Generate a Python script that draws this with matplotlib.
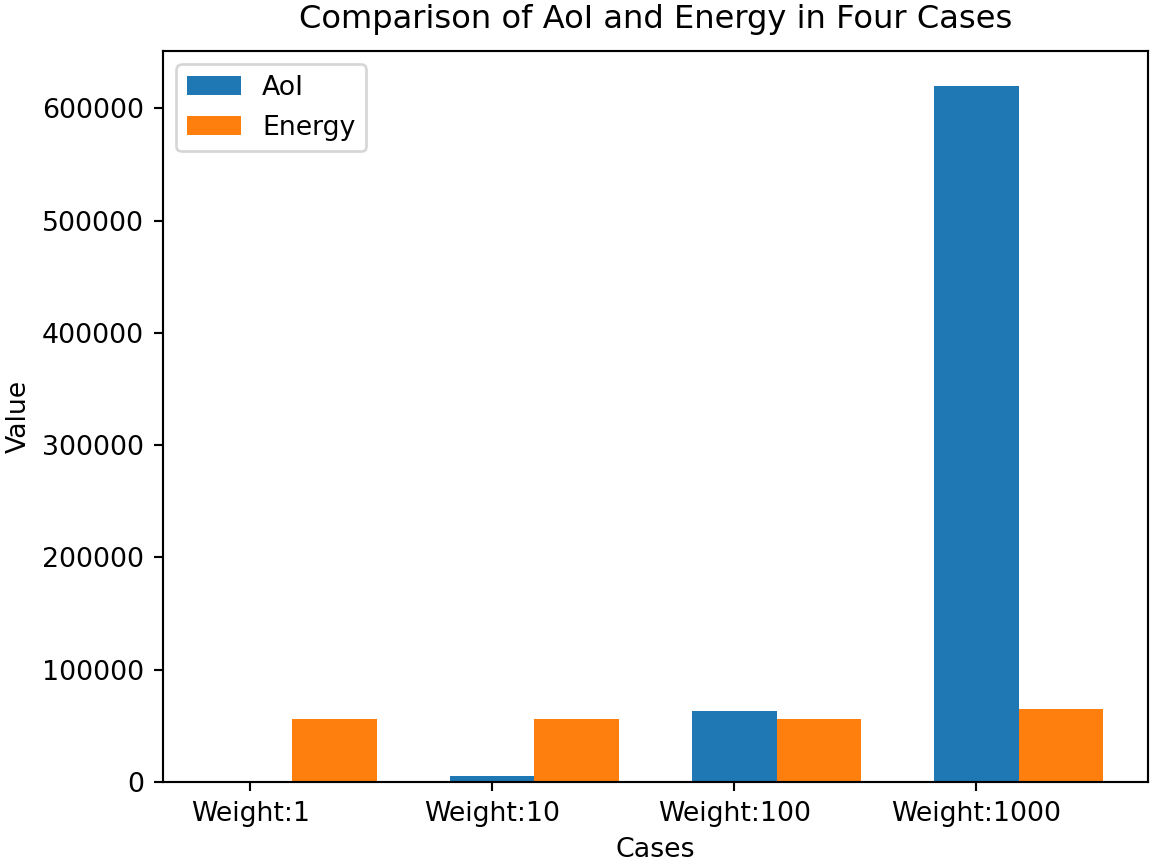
import matplotlib
matplotlib.use("Agg")
import matplotlib.pyplot as plt
import numpy as np

cases = ["Weight:1", "Weight:10", "Weight:100", "Weight:1000"]
aoi = [200, 5000, 63300, 620000]
energy = [56000, 56000, 56000, 65000]

S = 1.93
plt.rcParams.update({
    "font.size": 10 * S,
    "axes.linewidth": 0.8 * S,
    "xtick.major.width": 0.8 * S,
    "ytick.major.width": 0.8 * S,
    "xtick.major.size": 3.5 * S,
    "ytick.major.size": 3.5 * S,
    "xtick.major.pad": 3.5 * S,
    "ytick.major.pad": 3.5 * S,
    "axes.labelpad": 4 * S,
    "patch.linewidth": 1.0 * S,
})

fig = plt.figure(figsize=(11.56, 8.64), dpi=100)
ax = fig.add_axes([163 / 1156, 1 - 782 / 864, (1148 - 163) / 1156, (782 - 51) / 864])

x = np.arange(len(cases))
w = 0.35
ax.bar(x, aoi, w, label="AoI", color="#1f77b4")
ax.bar(x + w, energy, w, label="Energy", color="#ff7f0e")
ax.set_xticks(x)
ax.set_xticklabels(cases)
ax.set_xlabel("Cases")
ax.set_ylabel("Value")
ax.set_title("Comparison of AoI and Energy in Four Cases", fontsize=12 * S, pad=16.5)
ax.legend(loc="upper left")

fig.savefig("out.png", dpi=100)
